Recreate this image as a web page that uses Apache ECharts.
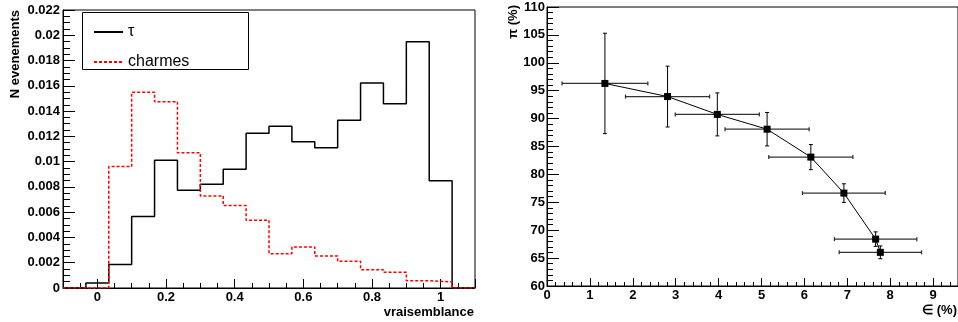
<!DOCTYPE html>
<html>
<head>
<meta charset="utf-8">
<script src="https://cdn.jsdelivr.net/npm/echarts@6/dist/echarts.min.js"></script>
<style>html,body{margin:0;padding:0;background:#fff}#c{width:958px;height:322px}</style>
</head>
<body>
<div id="c"></div>
<script>
// ---- Left panel: histogram (18 bins from -0.1 to 1.1) ----
const histLow = -0.1;
const histHigh = 1.1;
const tauCounts = [0, 0.0004, 0.00185, 0.00565, 0.0101, 0.00774, 0.00821, 0.0094, 0.01225, 0.0128, 0.01157, 0.0111, 0.01328, 0.01622, 0.01458, 0.01949, 0.00848, 0];
const charmCounts = [0, 0, 0.00961, 0.0155, 0.01474, 0.0107, 0.00729, 0.00652, 0.00536, 0.00272, 0.00325, 0.00254, 0.00211, 0.00145, 0.00124, 0.00058, 0.00048, 0];
const seriesNames = ['τ', 'charmes'];

// ---- Right panel: pi vs epsilon with errors ----
const epsVals = [1.35, 2.81, 3.97, 5.13, 6.15, 6.92, 7.66, 7.77];
const epsErr  = [1.00, 0.98, 0.98, 0.98, 0.98, 0.965, 0.96, 0.96];
const piVals  = [96.3, 93.95, 90.75, 88.1, 83.1, 76.65, 68.4, 66.03];
const piErr   = [9.0, 5.45, 3.85, 3.0, 2.25, 1.67, 1.3, 1.15];

function stepData(counts) {
  const n = counts.length;
  const w = (histHigh - histLow) / n;
  const d = counts.map((v, i) => [histLow + i * w, v]);
  d.push([histHigh, counts[n - 1]]);
  return d;
}

const FONT = 'Liberation Sans, Arial, Helvetica, sans-serif';
const chart = echarts.init(document.getElementById('c'), null, {renderer: 'canvas'});

const labelStyle = {fontFamily: FONT, fontWeight: 'bold', fontSize: 13, color: '#000'};

const option = {
  animation: false,
  backgroundColor: '#fff',
  grid: [
    {left: 63, top: 10, width: 412, height: 278, show: true, borderColor: '#000', borderWidth: 1, backgroundColor: 'transparent'},
    {left: 547, top: 7, right: -1, height: 279, show: true, borderColor: '#000', borderWidth: 1, backgroundColor: 'transparent'}
  ],
  xAxis: [
    {
      type: 'value', gridIndex: 0, min: histLow, max: histHigh, splitNumber: 6,
      axisLine: {show: true, onZero: false, lineStyle: {color: '#000', width: 1}},
      axisTick: {show: true, inside: true, length: 9, lineStyle: {color: '#000'}},
      minorTick: {show: true, splitNumber: 4, length: 5, lineStyle: {color: '#000'}},
      splitLine: {show: false},
      axisLabel: Object.assign({margin: 3, showMinLabel: false, showMaxLabel: false}, labelStyle)
    },
    {
      type: 'value', gridIndex: 1, min: 0, max: 9.58, interval: 1,
      axisLine: {show: true, onZero: false, lineStyle: {color: '#000', width: 1}},
      axisTick: {show: true, inside: true, length: 8, lineStyle: {color: '#000'}},
      minorTick: {show: true, splitNumber: 5, length: 4, lineStyle: {color: '#000'}},
      splitLine: {show: false},
      axisLabel: Object.assign({margin: 3, showMaxLabel: false}, labelStyle)
    }
  ],
  yAxis: [
    {
      type: 'value', gridIndex: 0, min: 0, max: 0.022, interval: 0.002,
      axisLine: {show: true, onZero: false, lineStyle: {color: '#000', width: 1}},
      axisTick: {show: true, inside: true, length: 12, lineStyle: {color: '#000'}},
      minorTick: {show: true, splitNumber: 4, length: 7, lineStyle: {color: '#000'}},
      splitLine: {show: false},
      axisLabel: Object.assign({margin: 3}, labelStyle)
    },
    {
      type: 'value', gridIndex: 1, min: 60, max: 110, interval: 5,
      axisLine: {show: true, onZero: false, lineStyle: {color: '#000', width: 1}},
      axisTick: {show: true, inside: true, length: 12, lineStyle: {color: '#000'}},
      minorTick: {show: true, splitNumber: 5, length: 6, lineStyle: {color: '#000'}},
      splitLine: {show: false},
      axisLabel: Object.assign({margin: 2}, labelStyle)
    }
  ],
  legend: {
    data: seriesNames,
    orient: 'vertical', left: 88, top: 19,
    itemWidth: 29, itemHeight: 14, itemGap: 14,
    itemStyle: {opacity: 0},
    textStyle: {fontFamily: FONT, fontSize: 16, color: '#000'},
    selectedMode: false
  },
  graphic: [
    {type: 'rect', z: 3, shape: {x: 82.5, y: 12.5, width: 166, height: 57}, style: {fill: '#fff', stroke: '#000', lineWidth: 1}},
    {type: 'text', x: 15, y: 10, rotation: Math.PI / 2, style: {text: 'N evenements', fontFamily: FONT, fontWeight: 'bold', fontSize: 13, fill: '#000', align: 'right', verticalAlign: 'middle'}},
    {type: 'text', x: 474, y: 312, style: {text: 'vraisemblance', fontFamily: FONT, fontWeight: 'bold', fontSize: 13, fill: '#000', align: 'right', verticalAlign: 'middle'}},
    {type: 'text', x: 513, y: 5, rotation: Math.PI / 2, style: {text: 'π (%)', fontFamily: FONT, fontWeight: 'bold', fontSize: 13, fill: '#000', align: 'right', verticalAlign: 'middle'}},
    {type: 'text', x: 957, y: 310, style: {text: '∈ (%)', fontFamily: FONT, fontWeight: 'bold', fontSize: 13, fill: '#000', align: 'right', verticalAlign: 'middle'}}
  ],
  series: [
    {
      name: seriesNames[0], type: 'line', xAxisIndex: 0, yAxisIndex: 0,
      step: 'end', symbol: 'none', data: stepData(tauCounts),
      lineStyle: {color: '#000', width: 1.5}, itemStyle: {color: '#000'}, z: 2
    },
    {
      name: seriesNames[1], type: 'line', xAxisIndex: 0, yAxisIndex: 0,
      step: 'end', symbol: 'none', data: stepData(charmCounts),
      lineStyle: {color: '#ff0000', width: 1.5, type: [3, 2]}, itemStyle: {color: '#ff0000'}, z: 3
    },
    {
      type: 'custom', xAxisIndex: 1, yAxisIndex: 1,
      data: epsVals.map((x, i) => [x, piVals[i], epsErr[i], piErr[i]]),
      encode: {x: 0, y: 1},
      renderItem: function (params, api) {
        const x = api.value(0), y = api.value(1), ex = api.value(2), ey = api.value(3);
        const l = api.coord([x - ex, y]), r = api.coord([x + ex, y]);
        const t = api.coord([x, y + ey]), b = api.coord([x, y - ey]);
        const hs = {stroke: '#333', lineWidth: 1.3};
        const vs = {stroke: '#000', lineWidth: 1};
        return {
          type: 'group',
          children: [
            {type: 'line', shape: {x1: l[0], y1: l[1], x2: r[0], y2: r[1]}, style: hs},
            {type: 'line', shape: {x1: l[0], y1: l[1] - 2, x2: l[0], y2: l[1] + 2}, style: hs},
            {type: 'line', shape: {x1: r[0], y1: r[1] - 2, x2: r[0], y2: r[1] + 2}, style: hs},
            {type: 'line', shape: {x1: t[0], y1: t[1], x2: b[0], y2: b[1]}, style: vs},
            {type: 'line', shape: {x1: t[0] - 2, y1: t[1], x2: t[0] + 2, y2: t[1]}, style: vs},
            {type: 'line', shape: {x1: b[0] - 2, y1: b[1], x2: b[0] + 2, y2: b[1]}, style: vs}
          ]
        };
      },
      z: 2
    },
    {
      type: 'line', xAxisIndex: 1, yAxisIndex: 1,
      data: epsVals.map((x, i) => [x, piVals[i]]),
      symbol: 'rect', symbolSize: 7,
      lineStyle: {color: '#000', width: 1}, itemStyle: {color: '#000'}, z: 3
    }
  ]
};
chart.setOption(option);
</script>
</body>
</html>
